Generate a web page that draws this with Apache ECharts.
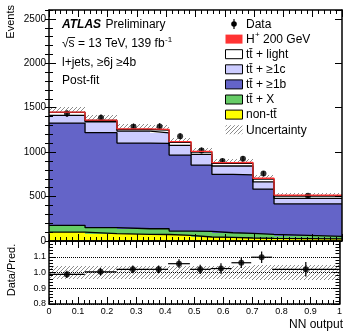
<!DOCTYPE html>
<html>
<head>
<meta charset="utf-8">
<script src="https://cdn.jsdelivr.net/npm/echarts@6/dist/echarts.min.js"></script>
<style>
  html, body { margin: 0; padding: 0; background: #fff; }
  #c { width: 345px; height: 331px; }
</style>
</head>
<body>
<div id="c"></div>
<script>
// NN output bin edges (variable width bins)
const binEdges = [0, 0.123, 0.232, 0.345, 0.410, 0.485, 0.556, 0.628, 0.696, 0.768, 1.0];

// Post-fit yields per bin (events), listed from the bottom of the stack upwards
const nonTT   = [101, 82, 75, 73, 64, 45, 41, 34, 30, 25];
const ttX     = [75, 68, 63, 65, 48, 64, 52, 52, 45, 28];
const tt1b    = [1150, 1069, 964, 961, 855, 746, 658, 658, 508, 365];
const tt1c    = [87, 123, 135, 119, 109, 120, 93, 100, 82, 61];
const ttLight = [35, 15, 18, 30, 34, 26, 29, 33, 32, 27];
const hPlus   = [2, 3, 8, 8, 8, 8, 9, 9, 9, 10];

// Observed data and its statistical error
const dataEvents = [1435, 1387, 1286, 1290, 1180, 1020, 900, 927, 759, 508];
const dataErr    = [38, 37, 36, 36, 34, 32, 30, 30, 28, 23];

// Relative uncertainty of the total prediction
const relUnc = [0.040, 0.040, 0.040, 0.040, 0.040, 0.041, 0.042, 0.043, 0.045, 0.047];

// Data / prediction ratio and its error
const ratio    = [0.988, 1.004, 1.020, 1.020, 1.056, 1.020, 1.025, 1.062, 1.097, 1.020];
const ratioErr = [0.023, 0.024, 0.025, 0.025, 0.028, 0.030, 0.033, 0.033, 0.037, 0.046];

// Axis ticks
const mainYMax = 2600, mainYStep = 500, mainYMinor = 100;
const ratioYMin = 0.8, ratioYMax = 1.2, ratioYStep = 0.1;
const xStep = 0.1;

const FONT = '"Liberation Sans", Arial, Helvetica, sans-serif';

// Diagonal hatch used for the uncertainty bands
function hatchCanvas() {
  const c = document.createElement('canvas');
  c.width = 4; c.height = 4;
  const g = c.getContext('2d');
  g.strokeStyle = '#8c8c8c';
  g.lineWidth = 1;
  g.beginPath();
  g.moveTo(0, 4); g.lineTo(4, 0);
  g.moveTo(-1, 1); g.lineTo(1, -1);
  g.moveTo(3, 5); g.lineTo(5, 3);
  g.stroke();
  return c;
}
const hatch = { image: hatchCanvas(), repeat: 'repeat' };

function textWidth(str, size, weight, style) {
  const ctx = document.createElement('canvas').getContext('2d');
  ctx.font = (style || 'normal') + ' ' + (weight || 'normal') + ' ' + size + 'px ' + FONT;
  return ctx.measureText(str).width;
}

const nBins = binEdges.length - 1;

const layers = [
  { name: 'non-tt̄',     vals: nonTT,   fill: '#ffff00', edge: '#000000' },
  { name: 'tt̄ + X',     vals: ttX,     fill: '#66cc66', edge: '#000000' },
  { name: 'tt̄ + ≥1b',   vals: tt1b,    fill: '#6464c8', edge: '#000000' },
  { name: 'tt̄ + ≥1c',   vals: tt1c,    fill: '#ccccff', edge: '#000000' },
  { name: 'tt̄ + light', vals: ttLight, fill: '#ffffff', edge: '#000000' },
  { name: 'H+ 200 GeV', vals: hPlus,   fill: '#ff3333', edge: '#ff3333' }
];

// rectangles [x0, x1, y0, y1] rendered through the axis scales
function rectRenderer(fill) {
  return function (params, api) {
    const a = api.coord([api.value(0), api.value(3)]);
    const b = api.coord([api.value(1), api.value(2)]);
    const x0 = Math.round(a[0]), x1 = Math.round(b[0]);
    const y0 = Math.round(a[1]), y1 = Math.round(b[1]);
    return {
      type: 'rect',
      shape: { x: x0, y: y0, width: x1 - x0, height: y1 - y0 },
      style: { fill: fill }
    };
  };
}

const series = [];
const base = new Array(nBins).fill(0);
const total = [];
const stackRects = [];
const stackLines = [];
layers.forEach(function (L) {
  const rects = [], line = [];
  for (let i = 0; i < nBins; i++) {
    const lo = base[i], hi = base[i] + L.vals[i];
    rects.push([binEdges[i], binEdges[i + 1], lo, hi]);
    line.push([binEdges[i], hi], [binEdges[i + 1], hi]);
    base[i] = hi;
  }
  stackRects.push({ L: L, rects: rects });
  stackLines.push({ L: L, line: line });
});
for (let i = 0; i < nBins; i++) total.push(base[i]);

// uncertainty band of the prediction (behind the stack)
series.push({
  type: 'custom', xAxisIndex: 0, yAxisIndex: 0, silent: true,
  renderItem: rectRenderer(hatch),
  encode: { x: [0, 1], y: [2, 3] },
  data: total.map(function (t, i) { return [binEdges[i], binEdges[i + 1], t * (1 - relUnc[i]), t * (1 + relUnc[i])]; })
});
stackRects.forEach(function (s) {
  series.push({
    type: 'custom', name: s.L.name, xAxisIndex: 0, yAxisIndex: 0, silent: true,
    renderItem: rectRenderer(s.L.fill),
    encode: { x: [0, 1], y: [2, 3] },
    data: s.rects
  });
});
stackLines.forEach(function (s) {
  series.push({
    type: 'line', xAxisIndex: 0, yAxisIndex: 0, silent: true,
    symbol: 'none', data: s.line,
    lineStyle: { color: s.L.edge, width: 1.3 }
  });
});

const centers = [];
for (let i = 0; i < nBins; i++) centers.push((binEdges[i] + binEdges[i + 1]) / 2);

// data error bars
series.push({
  type: 'custom', xAxisIndex: 0, yAxisIndex: 0, silent: true,
  renderItem: function (params, api) {
    const a = api.coord([api.value(0), api.value(1) - api.value(2)]);
    const b = api.coord([api.value(0), api.value(1) + api.value(2)]);
    return { type: 'line', shape: { x1: a[0], y1: a[1], x2: b[0], y2: b[1] }, style: { stroke: '#000', lineWidth: 1.2 } };
  },
  encode: { x: 0, y: 1 },
  data: centers.map(function (c, i) { return [c, dataEvents[i], dataErr[i]]; })
});
series.push({
  type: 'scatter', xAxisIndex: 0, yAxisIndex: 0, silent: true,
  symbol: 'circle', symbolSize: 6,
  itemStyle: { color: '#000' },
  data: centers.map(function (c, i) { return [c, dataEvents[i]]; })
});

// ratio panel: uncertainty band
series.push({
  type: 'custom', xAxisIndex: 2, yAxisIndex: 4, silent: true,
  renderItem: rectRenderer(hatch),
  encode: { x: [0, 1], y: [2, 3] },
  data: relUnc.map(function (u, i) { return [binEdges[i], binEdges[i + 1], 1 - u, 1 + u]; })
});
// ratio error bars (bin width horizontally, stat error vertically)
series.push({
  type: 'custom', xAxisIndex: 2, yAxisIndex: 4, silent: true,
  renderItem: function (params, api) {
    const i = params.dataIndex;
    const r = api.value(1), e = api.value(2);
    const l = api.coord([binEdges[i], r]);
    const rr = api.coord([binEdges[i + 1], r]);
    const t = api.coord([api.value(0), r + e]);
    const b = api.coord([api.value(0), r - e]);
    return {
      type: 'group',
      children: [
        { type: 'line', shape: { x1: l[0], y1: l[1], x2: rr[0], y2: rr[1] }, style: { stroke: '#000', lineWidth: 1.2 } },
        { type: 'line', shape: { x1: t[0], y1: t[1], x2: b[0], y2: b[1] }, style: { stroke: '#000', lineWidth: 1.2 } }
      ]
    };
  },
  encode: { x: 0, y: 1 },
  data: centers.map(function (c, i) { return [c, ratio[i], ratioErr[i]]; })
});
series.push({
  type: 'scatter', xAxisIndex: 2, yAxisIndex: 4, silent: true,
  symbol: 'circle', symbolSize: 6,
  itemStyle: { color: '#000' },
  data: centers.map(function (c, i) { return [c, ratio[i]]; })
});

const axisLine = { show: true, onZero: false, lineStyle: { color: '#000', width: 1.5 } };

function xAx(grid, pos, labels) {
  return {
    type: 'value', gridIndex: grid, position: pos, min: 0, max: 1, interval: xStep, z: 10,
    axisLine: axisLine,
    axisTick: { show: true, inside: true, length: 7, lineStyle: { color: '#000', width: 1 } },
    minorTick: { show: true, splitNumber: 5, length: 4, lineStyle: { color: '#000', width: 1 } },
    splitLine: { show: false },
    axisLabel: labels ? {
      show: true, fontSize: 9, fontFamily: FONT, color: '#000', margin: 3,
      formatter: function (v) { return v === 0 ? '0' : (v === 1 ? '1' : v.toFixed(1)); }
    } : { show: false }
  };
}

function yAx(grid, pos, min, max, step, tickLen, labels, showLine, extra) {
  return Object.assign({
    type: 'value', gridIndex: grid, position: pos, min: min, max: max, interval: step, z: 10,
    axisLine: showLine ? axisLine : { show: false },
    axisTick: { show: true, inside: true, length: tickLen, lineStyle: { color: '#000', width: 1 } },
    splitLine: { show: false },
    axisLabel: labels || { show: false }
  }, extra || {});
}

const mainYLabels = {
  show: true, fontSize: 10, fontFamily: FONT, color: '#000', margin: 3, showMaxLabel: false,
  formatter: function (v) { return String(Math.round(v)); }
};
const ratioYLabels = {
  show: true, fontSize: 9, fontFamily: FONT, color: '#000', margin: 3, showMaxLabel: false,
  formatter: function (v) { return v.toFixed(1); }
};

// ---------- text and legend ----------
const graphics = [];
function T(x, y, text, size, opts) {
  opts = opts || {};
  return {
    type: 'text', x: x, y: y, rotation: opts.rotation || 0, silent: true, z: 100,
    style: {
      text: text, fill: '#000',
      font: (opts.style || 'normal') + ' ' + (opts.weight || 'normal') + ' ' + size + 'px ' + FONT,
      align: opts.align || 'left', textAlign: opts.align || 'left',
      verticalAlign: opts.valign || 'middle', textVerticalAlign: opts.valign || 'middle'
    }
  };
}

// ATLAS label block
const tx = 62;
graphics.push(T(tx, 25, 'ATLAS', 12, { weight: 'bold', style: 'italic' }));
graphics.push(T(tx + textWidth('ATLAS', 12, 'bold', 'italic') + 4.5, 25, 'Preliminary', 12));
const lumiMain = '√s = 13 TeV, 139 fb';
graphics.push(T(tx, 44, lumiMain, 12));
graphics.push(T(tx + textWidth(lumiMain, 12) + 0.5, 39.5, '-1', 8));
const wRoot = textWidth('√', 12), wS = textWidth('s', 12);
graphics.push({ type: 'line', silent: true, z: 100,
  shape: { x1: tx + wRoot - 0.5, y1: 37.5, x2: tx + wRoot + wS + 0.5, y2: 37.5 },
  style: { stroke: '#000', lineWidth: 0.9 } });
graphics.push(T(tx, 62.5, 'l+jets, ≥6j ≥4b', 12));
graphics.push(T(tx, 80.5, 'Post-fit', 12));

// axis titles
graphics.push(T(11, 5, 'Events', 11, { rotation: Math.PI / 2, align: 'right' }));
graphics.push(T(12, 270, 'Data/Pred.', 11, { rotation: Math.PI / 2, align: 'center' }));
graphics.push(T(343, 325, 'NN output', 12, { align: 'right' }));

// legend
const legendRows = [
  { label: 'Data', kind: 'data' },
  { label: 'H', sup: '+', rest: ' 200 GeV', fill: '#ff3333', noBorder: true },
  { label: 'tt̄ + light', fill: '#ffffff' },
  { label: 'tt̄ + ≥1c', fill: '#ccccff' },
  { label: 'tt̄ + ≥1b', fill: '#6464c8' },
  { label: 'tt̄ + X', fill: '#66cc66' },
  { label: 'non-tt̄', fill: '#ffff00' },
  { label: 'Uncertainty', fill: hatch, noBorder: true }
];
const legX = 225.5, legTextX = 246, legY0 = 24, legDy = 15.1, boxW = 17, boxH = 9;
legendRows.forEach(function (r, k) {
  const y = legY0 + k * legDy;
  if (r.kind === 'data') {
    graphics.push({ type: 'line', silent: true, z: 100,
      shape: { x1: legX + boxW / 2, y1: y - 5, x2: legX + boxW / 2, y2: y + 5 },
      style: { stroke: '#000', lineWidth: 1.2 } });
    graphics.push({ type: 'circle', silent: true, z: 100,
      shape: { cx: legX + boxW / 2, cy: y, r: 2.8 }, style: { fill: '#000' } });
  } else {
    graphics.push({ type: 'rect', silent: true, z: 100,
      shape: { x: legX, y: y - boxH / 2, width: boxW, height: boxH },
      style: { fill: r.fill, stroke: r.noBorder ? null : '#000', lineWidth: r.noBorder ? 0 : 1 } });
  }
  graphics.push(T(legTextX, y + 0.5, r.label, 12));
  if (r.sup) {
    const w = textWidth(r.label, 12);
    graphics.push(T(legTextX + w + 0.3, y - 4, r.sup, 8));
    graphics.push(T(legTextX + w + textWidth(r.sup, 8) + 0.3, y + 0.5, r.rest, 12));
  }
});

const chart = echarts.init(document.getElementById('c'), null, { renderer: 'canvas', width: 345, height: 331 });
chart.setOption({
  animation: false,
  backgroundColor: '#ffffff',
  grid: [
    { left: 49, top: 10, width: 293, height: 231 },
    { left: 49, top: 241, width: 293, height: 63 }
  ],
  xAxis: [
    xAx(0, 'bottom', false),
    xAx(0, 'top', false),
    xAx(1, 'bottom', true),
    xAx(1, 'top', false)
  ],
  yAxis: [
    yAx(0, 'left', 0, mainYMax, mainYStep, 7, mainYLabels, true),
    yAx(0, 'right', 0, mainYMax, mainYStep, 7, null, true),
    yAx(0, 'left', 0, mainYMax, mainYMinor, 4, null, false),
    yAx(0, 'right', 0, mainYMax, mainYMinor, 4, null, false),
    yAx(1, 'left', ratioYMin, ratioYMax, ratioYStep, 7, ratioYLabels, true, {
      minorTick: { show: true, splitNumber: 5, length: 4, lineStyle: { color: '#000', width: 1 } },
      splitLine: { show: true, lineStyle: { color: '#000', width: 1, type: 'dotted' } }
    }),
    yAx(1, 'right', ratioYMin, ratioYMax, ratioYStep, 7, null, true, {
      minorTick: { show: true, splitNumber: 5, length: 4, lineStyle: { color: '#000', width: 1 } }
    })
  ],
  series: series,
  graphic: { elements: graphics }
});
</script>
</body>
</html>
